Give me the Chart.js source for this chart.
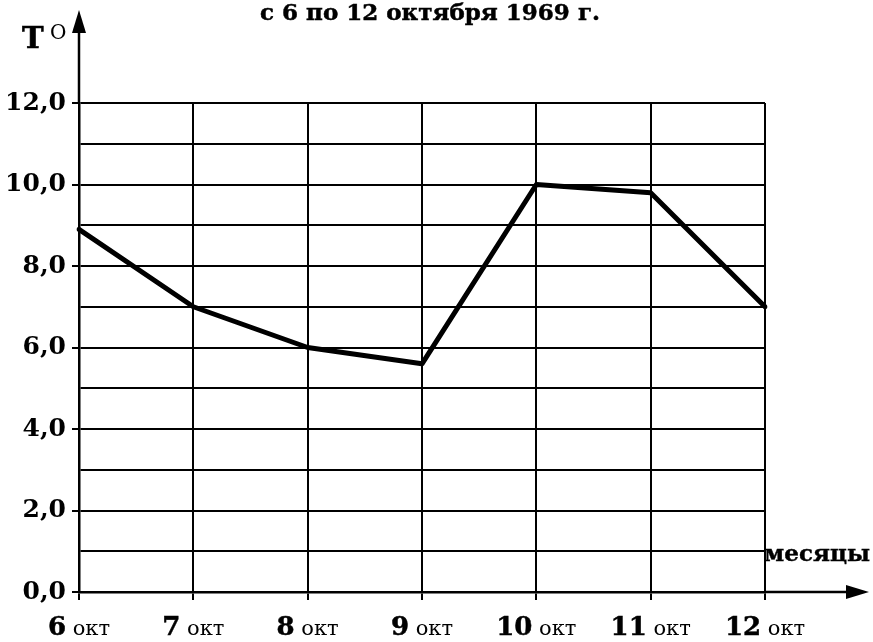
<!DOCTYPE html>
<html>
<head>
<meta charset="utf-8">
<script src="https://cdn.jsdelivr.net/npm/chart.js@4.4.1/dist/chart.umd.min.js"></script>
<style>
  html, body { margin: 0; padding: 0; background: #fff; }
  #wrap { width: 873px; height: 642px; }
</style>
</head>
<body>
<div id="wrap"><canvas id="tempChart" width="873" height="642"></canvas></div>
<script>
// Daily temperature, 6-12 October 1969
const days = ['6 окт', '7 окт', '8 окт', '9 окт', '10 окт', '11 окт', '12 окт'];
const temps = [8.9, 7.0, 6.0, 5.6, 10.0, 9.8, 7.0];
const yMin = 0;
const yMax = 12;
const yStep = 1;
const titleText = 'с 6 по 12 октября 1969 г.';
const yAxisName = 'T';
const xAxisName = 'месяцы';

const SERIF = '"DejaVu Serif", "Liberation Serif", serif';

// filled text with a thin outline so it reads as heavy print
function heavyText(ctx, text, x, y, w) {
  ctx.fillText(text, x, y);
  ctx.lineWidth = w;
  ctx.strokeText(text, x, y);
}

// axis arrows, captions and the two-size day labels
const decorations = {
  id: 'decorations',
  afterDraw(chart) {
    const ctx = chart.ctx;
    const { left, right, top, bottom } = chart.chartArea;
    const xs = chart.scales.x;
    ctx.save();
    ctx.strokeStyle = '#000';
    ctx.fillStyle = '#000';
    ctx.lineWidth = 2.5;

    // y axis up to the arrow
    ctx.beginPath();
    ctx.moveTo(left, top);
    ctx.lineTo(left, 26);
    ctx.stroke();
    ctx.beginPath();
    ctx.moveTo(left, 10);
    ctx.lineTo(left - 7, 33);
    ctx.lineTo(left + 7, 33);
    ctx.closePath();
    ctx.fill();

    // x axis out to the arrow
    ctx.beginPath();
    ctx.moveTo(right, bottom);
    ctx.lineTo(852, bottom);
    ctx.stroke();
    ctx.beginPath();
    ctx.moveTo(869, bottom);
    ctx.lineTo(846, bottom - 7);
    ctx.lineTo(846, bottom + 7);
    ctx.closePath();
    ctx.fill();

    ctx.textBaseline = 'alphabetic';

    // title
    ctx.font = 'bold 23px ' + SERIF;
    ctx.textAlign = 'center';
    heavyText(ctx, titleText, 430, 20, 0.5);

    // T with degree mark
    ctx.textAlign = 'left';
    ctx.font = 'bold 29px ' + SERIF;
    heavyText(ctx, yAxisName, 22, 48, 0.6);
    ctx.font = '20px ' + SERIF;
    ctx.fillText('O', 50, 39);

    // x axis caption
    ctx.font = 'bold 23px ' + SERIF;
    ctx.textAlign = 'right';
    heavyText(ctx, xAxisName, 870, 561, 0.4);

    // day labels: big number, smaller month
    days.forEach((d, i) => {
      const [num, mon] = d.split(' ');
      const x = xs.getPixelForValue(i);
      ctx.font = 'bold 26px ' + SERIF;
      const wn = ctx.measureText(num).width;
      ctx.font = '21px ' + SERIF;
      const wm = ctx.measureText(' ' + mon).width;
      const sx = x - (wn + wm) / 2;
      ctx.textAlign = 'left';
      ctx.font = 'bold 26px ' + SERIF;
      heavyText(ctx, num, sx, 635, 0.5);
      ctx.font = '21px ' + SERIF;
      ctx.fillText(' ' + mon, sx + wn, 635);
    });
    ctx.restore();
  }
};

new Chart(document.getElementById('tempChart'), {
  type: 'line',
  data: {
    labels: days,
    datasets: [{
      data: temps,
      borderColor: '#000',
      borderWidth: 5,
      pointRadius: 0,
      tension: 0,
      fill: false,
      borderJoinStyle: 'round',
      borderCapStyle: 'round'
    }]
  },
  options: {
    responsive: false,
    animation: false,
    layout: { padding: { top: 103, right: 108, bottom: 0, left: 0 } },
    plugins: { legend: { display: false }, tooltip: { enabled: false }, title: { display: false } },
    scales: {
      x: {
        type: 'category',
        offset: false,
        afterFit(scale) { scale.height = 50; },
        grid: { color: '#000', lineWidth: 2, drawTicks: true, tickLength: 8, tickColor: '#000', tickWidth: 2 },
        border: { display: true, color: '#000', width: 2.5 },
        ticks: { display: false }
      },
      y: {
        min: yMin,
        max: yMax,
        afterFit(scale) { scale.width = 79; },
        grid: {
          color: '#000',
          lineWidth: 2,
          drawTicks: true,
          tickLength: 7,
          tickWidth: 2,
          tickColor: c => (c.tick && c.tick.value % 2 === 0) ? '#000' : 'rgba(0,0,0,0)'
        },
        border: { display: true, color: '#000', width: 2.5 },
        ticks: {
          stepSize: yStep,
          color: '#000',
          padding: 6,
          font: { family: SERIF, size: 25, weight: 'bold' },
          callback: v => (v % 2 === 0) ? v.toFixed(1).replace('.', ',') : ''
        }
      }
    }
  },
  plugins: [decorations]
});
</script>
</body>
</html>
